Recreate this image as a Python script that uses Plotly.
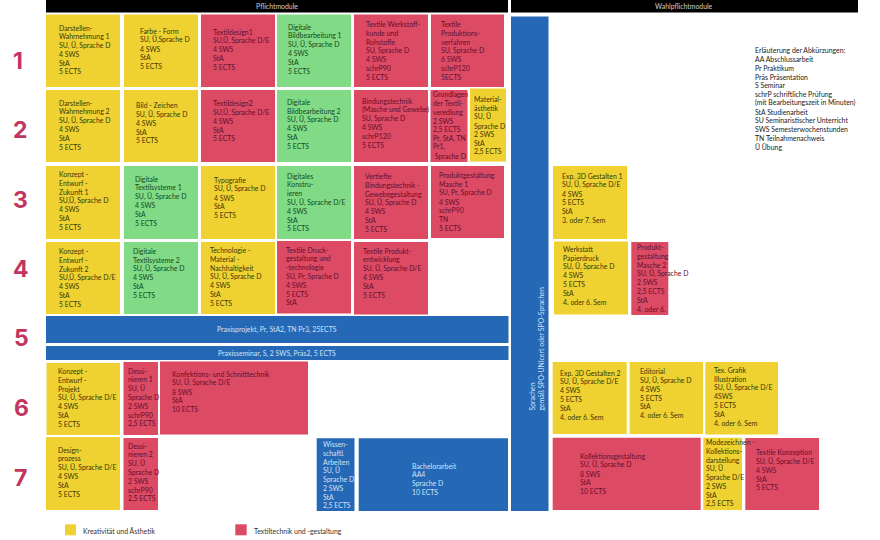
import plotly.graph_objects as go

# ---------- content ----------
SEMESTERS = ["1", "2", "3", "4", "5", "6", "7"]
HEADERS = ["Pflichtmodule", "Wahlpflichtmodule"]
LEGEND_LABELS = ["Kreativität und Ästhetik", "Textiltechnik und -gestaltung"]
ABBREVIATIONS = [
    "Erläuterung der Abkürzungen:", "AA Abschlussarbeit", "Pr Praktikum", "Präs Präsentation",
    "S Seminar", "schrP schriftliche Prüfung", "(mit Bearbeitungszeit in Minuten)",
    "StA Studienarbeit", "SU Seminaristischer Unterricht", "SWS Semesterwochenstunden",
    "TN Teilnahmenachweis", "Ü Übung",
]
SPRACHEN_LINES = ["Sprachen", "gemäß SPO-UNIcert oder SPO-Sprachen"]

SEM1 = [
    ("Y", ["Darstellen-", "Wahrnehmung 1", "SU, Ü, Sprache D", "4 SWS", "StA", "5 ECTS"]),
    ("Y", ["Farbe - Form", "SU, Ü,Sprache D", "4 SWS", "StA", "5 ECTS"]),
    ("R", ["Textildesign1", "SU,Ü, Sprache D/E", "4 SWS", "StA", "5 ECTS"]),
    ("G", ["Digitale", "Bildbearbeitung 1", "SU, Ü, Sprache D", "4 SWS", "StA", "5 ECTS"]),
    ("R", ["Textile Werkstoff-", "kunde und", "Rohstoffe", "SU, Sprache D", "4 SWS", "schrP90", "5 ECTS"]),
    ("R", ["Textile", "Produktions-", "verfahren", "SU, Sprache D", "6 SWS", "schrP120", "5ECTS"]),
]
SEM2 = [
    ("Y", ["Darstellen-", "Wahrnehmung 2", "SU, Ü, Sprache D", "4 SWS", "StA", "5 ECTS"]),
    ("Y", ["Bild - Zeichen", "SU, Ü, Sprache D", "4 SWS", "StA", "5 ECTS"]),
    ("R", ["Textildesign2", "SU,Ü, Sprache D/E", "4 SWS", "StA", "5 ECTS"]),
    ("G", ["Digitale", "Bildbearbeitung 2", "SU, Ü, Sprache D", "4 SWS", "StA", "5 ECTS"]),
    ("R", ["Bindungstechnik", "(Masche und Gewebe)", "SU, Sprache D", "4 SWS", "schrP120", "5 ECTS"]),
    ("R", ["Grundlagen", "der Textil-", "veredlung", "2 SWS", "2,5 ECTS", "Pr, StA, TN", "Pr1,", " Sprache D"]),
    ("Y", ["Material-", "ästhetik", "SU, Ü", "Sprache D", "2 SWS", "StA", "2,5 ECTS"]),
]
SEM3 = [
    ("Y", ["Konzept -", "Entwurf -", "Zukunft 1", "SU,Ü, Sprache D", "4 SWS", "StA", "5 ECTS"]),
    ("G", ["Digitale", "Textilsysteme 1", "SU, Ü, Sprache D", "4 SWS", "StA", "5 ECTS"]),
    ("Y", ["Typografie", "SU, Ü, Sprache D", "4 SWS", "StA", "5 ECTS"]),
    ("G", ["Digitales", "Konstru-", "ieren", "SU, Ü, Sprache D/E", "4 SWS", "StA", "5 ECTS"]),
    ("R", ["Vertiefte", "Bindungstechnik -", "Gewebegestaltung", "SU, Ü, Sprache D", "4 SWS", "StA", "5 ECTS"]),
    ("R", ["Produktgestaltung", "Masche 1", "SU, Pr, Sprache D", "4 SWS", "schrP90", "TN", "5 ECTS"]),
]
SEM4 = [
    ("Y", ["Konzept -", "Entwurf -", "Zukunft 2", "SU,Ü, Sprache D/E", "4 SWS", "StA", "5 ECTS"]),
    ("G", ["Digitale", "Textilsysteme 2", "SU, Ü, Sprache D", "4 SWS", "StA", "5 ECTS"]),
    ("Y", ["Technologie -", "Material -", "Nachhaltigkeit", "SU, Ü, Sprache D", "4 SWS", "StA", "5 ECTS"]),
    ("R", ["Textile Druck-", "gestaltung und", "-technologie", "SU, Pr, Sprache D", "4 SWS", "5 ECTS", "StA"]),
    ("R", ["Textile Produkt-", "entwicklung", "SU, Ü, Sprache D/E", "4 SWS", "StA", "5 ECTS"]),
]
SEM5 = [
    ("B", ["Praxisprojekt, Pr, StA2, TN Pr3, 25ECTS"]),
    ("B", ["Praxisseminar, S, 2 SWS, Präs2, 5 ECTS"]),
]
SEM6 = [
    ("Y", ["Konzept -", "Entwurf -", "Projekt", "SU, Ü, Sprache D/E", "4 SWS", "StA", "5 ECTS"]),
    ("R", ["Dessi-", "nieren 1", "SU, Ü", "Sprache D", "2 SWS", "schrP90", "2,5 ECTS"]),
    ("R", ["Konfektions- und Schnitttechnik", "SU, Ü, Sprache D/E", "8 SWS", "StA", "10 ECTS"]),
]
SEM7 = [
    ("Y", ["Design-", "prozess", "SU, Ü, Sprache D/E", "4 SWS", "StA", "5 ECTS"]),
    ("R", ["Dessi-", "nieren 2", "SU, Ü", "Sprache D", "2 SWS", "schrP90", "2,5 ECTS"]),
    ("B", ["Wissen-", "schaftl.", "Arbeiten", "SU, Ü", "Sprache D", "2 SWS", "StA", "2,5 ECTS"]),
    ("B", ["Bachelorarbeit", "AA4", "Sprache D", "10 ECTS"]),
]
WAHL_A = [
    ("Y", ["Exp. 3D Gestalten 1", "SU, Ü, Sprache D/E", "4 SWS", "5 ECTS", "StA", "3. oder 7. Sem"]),
    ("Y", ["Werkstatt", "Papierdruck", "SU, Ü, Sprache D", "4 SWS", "5 ECTS", "StA", "4. oder 6. Sem"]),
    ("R", ["Produkt-", "gestaltung", "Masche 2", "SU, Ü, Sprache D", "2 SWS", "2,5 ECTS", "StA", "4. oder 6."]),
]
WAHL_B = [
    ("Y", ["Exp. 3D Gestalten 2", "SU, Ü, Sprache D/E", "4 SWS", "5 ECTS", "StA", "4. oder 6. Sem"]),
    ("Y", ["Editorial", "SU, Ü, Sprache D", "4 SWS", "5 ECTS", "StA", "4. oder 6. Sem"]),
    ("Y", ["Tex. Grafik", "Illustration", "SU, Ü, Sprache D/E", "4SWS", "5 ECTS", "StA", "4. oder 6. Sem"]),
    ("R", ["Kollektionsgestaltung", "SU, Ü, Sprache D", "8 SWS", "StA", "10 ECTS"]),
    ("Y", ["Modezeichnen -", "Kollektions-", "darstellung", "SU, Ü", "Sprache D/E", "2 SWS", "StA", "2,5 ECTS"]),
    ("R", ["Textile Konzeption", "SU, Ü, Sprache D/E", "4 SWS", "StA", "5 ECTS"]),
]
MODULES = SEM1 + SEM2 + SEM3 + SEM4 + SEM6 + SEM7 + WAHL_A + WAHL_B

# ---------- layout (pixel frame of the page): x0, x1, y0, y1, text x, first line y ----------
FRAMES = [
    (46, 120, 14.5, 87, 57.5, 27.5), (124, 198, 14.5, 87, 138.7, 31), (201, 275, 14.5, 87, 211.7, 31.7),
    (277, 351, 14.5, 87, 287.3, 26.7), (354, 428, 14.5, 87, 365, 24), (431, 504, 14.5, 87, 440, 24.3),
    (46, 120, 90, 162, 57.5, 102.7), (124, 198, 90, 162, 134.7, 105.3), (201, 275, 90, 162, 211.7, 103.3),
    (277, 351, 90, 162, 286.3, 102), (354, 428, 90, 162, 361, 101), (430.5, 467.5, 90, 162, 432.3, 94.3),
    (470, 506, 88.5, 161.5, 473.3, 99.3),
    (46, 120, 166, 239, 57.7, 174.3), (124, 198, 166, 239, 134, 178.7), (201, 275, 166, 239, 212.7, 180),
    (277, 351, 166, 239, 285.7, 175.7), (354, 428, 166, 239, 363.7, 176.3), (431, 504, 166, 238, 437.7, 175.3),
    (46, 120, 242, 314, 57.7, 251), (124, 198, 242, 314, 131.7, 251), (201, 275, 242, 314, 209.3, 250.3),
    (277, 351, 241, 313.5, 285, 249.7), (354, 428, 242, 314.5, 362.3, 250.7),
    (46.5, 120, 363, 435, 56.7, 371), (123.5, 158, 362, 435, 126.7, 370.7), (160, 308, 361.5, 434.5, 171.3, 374),
    (46, 120, 437, 510, 56.7, 449.7), (123.5, 158, 438, 510, 126.7, 445.7),
    (316.7, 354.5, 438.3, 511, 321.7, 444.3), (358.7, 508, 438.3, 511, 410.7, 465.7),
    (553, 627, 166, 239, 560.7, 176), (554, 628, 241.5, 314.5, 561.7, 249), (631.3, 668.3, 242, 315, 636, 247.3),
    (552.7, 626.7, 362, 434, 559, 372.7), (629.7, 703, 362, 434, 639, 371.3), (705.3, 778, 362, 434.5, 713, 370),
    (552.7, 700.7, 437.7, 510, 579, 456), (703.3, 742, 437.7, 510, 705.3, 442.3), (745.3, 819, 438, 510, 754.7, 452.3),
]
FILL = {"Y": "#efd232", "R": "#dc4a64", "G": "#81db86", "B": "#2568b5", "K": "#000000"}
INK = {"Y": "#3a3808", "R": "#64102e", "G": "#104a22", "B": "#cfe2f7"}
FONT = "Lato"
SIZE = 6.9
LINE = 8.77

boxes = {k: [] for k in FILL}
notes = []


def label(x, y, text, color, size=SIZE, anchor="left", family=FONT, **kw):
    notes.append(dict(x=x, y=y, text=text, xref="x", yref="y", showarrow=False, xanchor=anchor,
                      yanchor="middle", borderpad=0, font=dict(family=family, size=size, color=color), **kw))


for (kind, lines), (x0, x1, y0, y1, tx, ty) in zip(MODULES, FRAMES):
    boxes[kind].append((x0, x1, y0, y1))
    for i, line in enumerate(lines):
        label(tx, ty + i * LINE, line, INK[kind])

boxes["K"] += [(46, 508, 0, 12.5), (511, 858, 0, 12.5)]
label(277, 5.5, HEADERS[0], "#d0d0d0", anchor="center")
label(684, 5.5, HEADERS[1], "#d0d0d0", anchor="center")

boxes["B"] += [(46, 508.5, 316, 343), (46, 508.5, 346, 360), (511, 548.5, 16.5, 511)]
label(277, 329.7, SEM5[0][1][0], INK["B"], anchor="center")
label(277, 353, SEM5[1][1][0], INK["B"], anchor="center")

notes.append(dict(x=531, y=411.5, text=SPRACHEN_LINES[0], xref="x", yref="y", showarrow=False, textangle=-90,
                  xanchor="center", yanchor="bottom", borderpad=0, font=dict(family=FONT, size=SIZE, color=INK["B"])))
notes.append(dict(x=540, y=412, text=SPRACHEN_LINES[1], xref="x", yref="y", showarrow=False, textangle=-90,
                  xanchor="center", yanchor="bottom", borderpad=0, font=dict(family=FONT, size=SIZE, color=INK["B"])))

for s, ypos, xpos in zip(SEMESTERS, [60.7, 130, 200, 269, 338, 408, 478], [18, 20.7, 20.7, 21, 21, 21.5, 20]):
    label(xpos, ypos, f"<b>{s}</b>", "#c2355f", size=23, anchor="center", family="Inter")

for i, line in enumerate(ABBREVIATIONS):
    label(754.3, 50.3 + i * LINE, line, "#222222")

boxes["Y"].append((65, 76, 524.3, 535.3))
boxes["R"].append((235.3, 246.7, 524.3, 535.3))
label(81.7, 530.7, LEGEND_LABELS[0], "#333333")
label(253, 530.7, LEGEND_LABELS[1], "#333333")

fig = go.Figure()
for kind, rects in boxes.items():
    fig.add_trace(go.Bar(
        x=[(r[0] + r[1]) / 2 for r in rects],
        width=[r[1] - r[0] for r in rects],
        base=[r[2] for r in rects],
        y=[r[3] - r[2] for r in rects],
        marker=dict(color=FILL[kind], line=dict(width=0)),
        hoverinfo="skip", showlegend=False,
    ))

fig.update_layout(
    width=880, height=540, margin=dict(l=0, r=0, t=0, b=0), barmode="overlay",
    paper_bgcolor="white", plot_bgcolor="white", annotations=notes,
    xaxis=dict(range=[0, 880], visible=False, fixedrange=True),
    yaxis=dict(range=[540, 0], visible=False, fixedrange=True),
)
fig.write_html("out.html", config={"displayModeBar": False},
               post_script="document.body.style.margin='0';document.body.style.overflow='hidden';")
